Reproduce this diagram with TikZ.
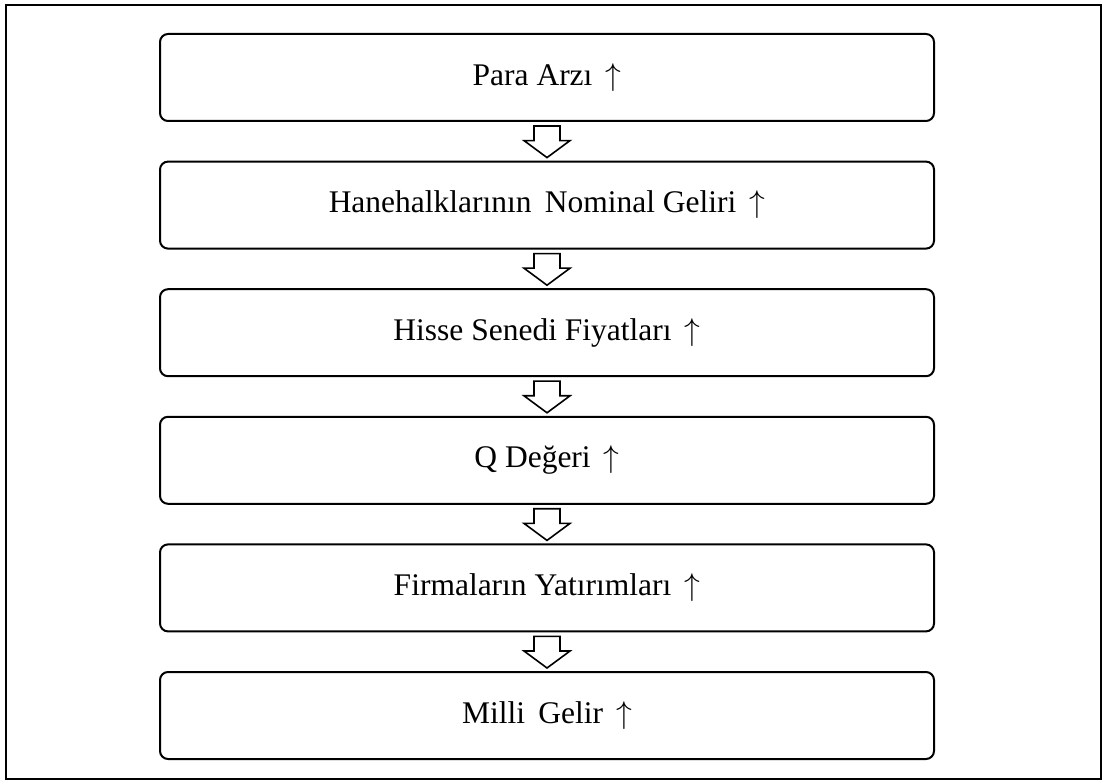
\RequirePackage{fix-cm}
\documentclass[tikz,border=0pt]{standalone}
\usepackage{fontspec}
\setmainfont{Liberation Serif}
\usetikzlibrary{calc}
\tikzset{
  stagebox/.style={draw, rounded corners=8pt, line width=2pt, fill=white, minimum width=774pt, minimum height=87pt, align=center, inner sep=0pt},
  blockarrow/.style={draw, line width=1.6pt, fill=white, to path={
    let \p1=(\tikztostart), \p2=(\tikztotarget) in
    (\x1-13pt,\y1-4pt) -- (\x1+13pt,\y1-4pt) -- (\x1+13pt,\y2+20pt) -- (\x1+23pt,\y2+20pt)
    -- (\x1,\y2+3pt) -- (\x1-23pt,\y2+20pt) -- (\x1-13pt,\y2+20pt) -- cycle}},
  frame/.style={draw, line width=2.6pt}
}
\newcommand{\up}{\,$\uparrow$}

\begin{document}
\begin{tikzpicture}[x=1pt, y=1pt, every node/.style={font=\fontsize{31.5}{36}\selectfont}]
  \useasboundingbox (0,0) rectangle (1105,782);
  \draw[frame] (6,3) rectangle (1101,777);

  \node[stagebox] (para) at (547,704.5) {Para Arzı \up};
  \node[stagebox] (gelir) at (547,576.9) {Hanehalklarının\, Nominal Geliri \up};
  \node[stagebox] (hisse) at (547,449.3) {Hisse Senedi Fiyatları \up};
  \node[stagebox] (qdeger) at (547,321.7) {Q Değeri \up};
  \node[stagebox] (yatirim) at (547,194.1) {Firmaların Yatırımları \up};
  \node[stagebox] (milli) at (547,66.5) {Milli\, Gelir \up};

  \draw[blockarrow] (para.south) to (gelir.north);
  \draw[blockarrow] (gelir.south) to (hisse.north);
  \draw[blockarrow] (hisse.south) to (qdeger.north);
  \draw[blockarrow] (qdeger.south) to (yatirim.north);
  \draw[blockarrow] (yatirim.south) to (milli.north);
\end{tikzpicture}
\end{document}
